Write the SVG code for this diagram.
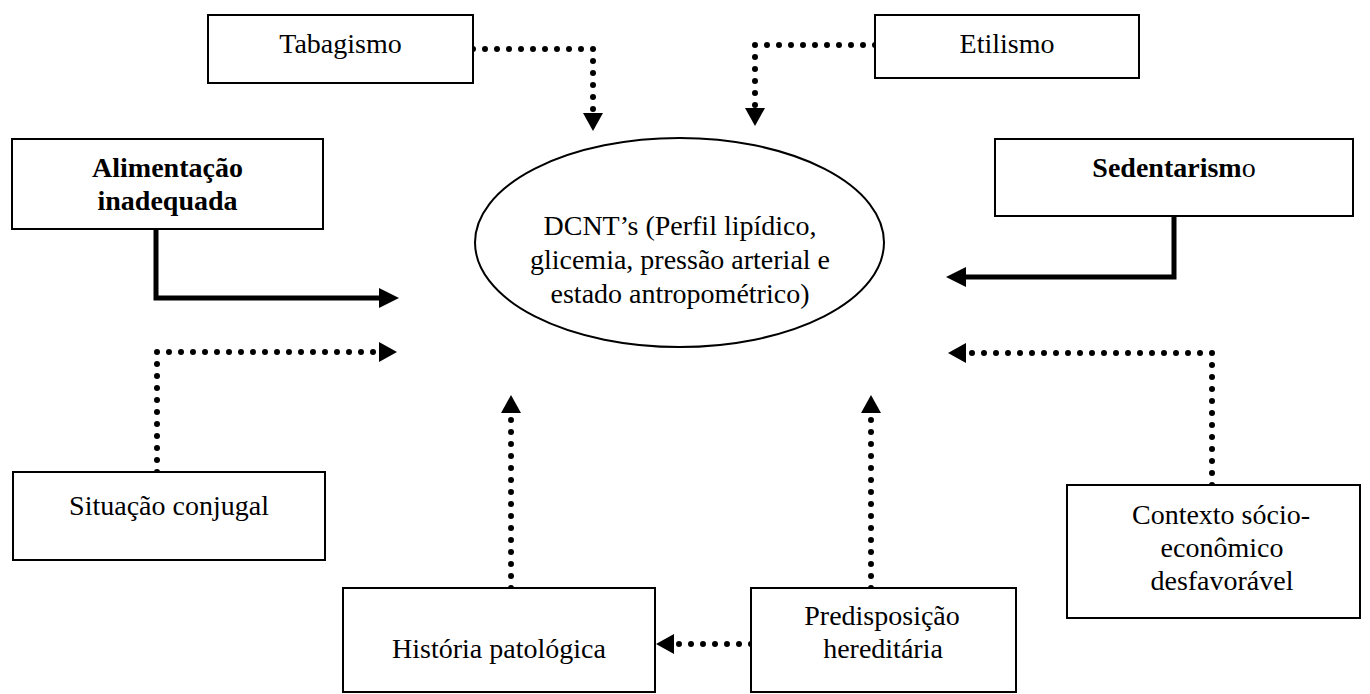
<svg xmlns="http://www.w3.org/2000/svg" width="1370" height="694" viewBox="0 0 1370 694">
<style>
.box{fill:#fff;stroke:#000;stroke-width:2}
.t{font-family:"Liberation Serif","Times New Roman",serif;font-size:28px;fill:#000;text-anchor:middle}
.b{font-weight:bold}
.dot{fill:none;stroke:#000;stroke-width:6;stroke-dasharray:0 12;stroke-linecap:round;stroke-linejoin:round}
.solid{fill:none;stroke:#000;stroke-width:5;stroke-linejoin:miter}
</style>
<defs>
<marker id="ad" markerUnits="userSpaceOnUse" markerWidth="20" markerHeight="22" refX="0" refY="10" orient="auto" viewBox="0 0 20 20" overflow="visible">
<path d="M0,0 L18,10 L0,20 z" fill="#000"/>
</marker>
<marker id="as" markerUnits="userSpaceOnUse" markerWidth="20" markerHeight="20" refX="0" refY="9" orient="auto" viewBox="0 0 18 18" overflow="visible">
<path d="M0,0 L18,9 L0,18 z" fill="#000"/>
</marker>
</defs>
<rect width="1370" height="694" fill="#fff"/>

<g id="connectors">
<path class="dot" d="M473,49 H593 V113" marker-end="url(#ad)"/>
<path class="dot" d="M875,45 H755 V108" marker-end="url(#ad)"/>
<path class="solid" d="M156,229 V298 H379" marker-end="url(#as)"/>
<path class="solid" d="M1174,216 V277 H966" marker-end="url(#as)"/>
<path class="dot" d="M157,472 V352 H379" marker-end="url(#ad)"/>
<path class="dot" d="M1212,485 V353 H966" marker-end="url(#ad)"/>
<path class="dot" d="M511,588 V413" marker-end="url(#ad)"/>
<path class="dot" d="M871,588 V413" marker-end="url(#ad)"/>
<path class="dot" d="M751,644 H674" marker-end="url(#ad)"/>
</g>

<g id="dcnt">
<ellipse cx="679.5" cy="242.5" rx="204.5" ry="104.5" fill="#fff" stroke="#000" stroke-width="2"/>
<text class="t" x="680" y="235">DCNT’s (Perfil lipídico,</text>
<text class="t" x="680" y="269">glicemia, pressão arterial e</text>
<text class="t" x="680" y="303">estado antropométrico)</text>
</g>

<g id="tabagismo">
<rect class="box" x="208" y="15" width="265" height="68"/>
<text class="t" x="340.5" y="53">Tabagismo</text>
</g>

<g id="etilismo">
<rect class="box" x="875" y="15" width="264" height="63"/>
<text class="t" x="1007" y="53">Etilismo</text>
</g>

<g id="alimentacao">
<rect class="box" x="12" y="139" width="311" height="90"/>
<text class="t b" x="167.5" y="177">Alimentação</text>
<text class="t b" x="167.5" y="210">inadequada</text>
</g>

<g id="sedentarismo">
<rect class="box" x="995" y="139" width="358" height="77"/>
<text class="t" x="1174" y="177"><tspan class="b">Sedentarism</tspan>o</text>
</g>

<g id="situacao">
<rect class="box" x="13" y="472" width="312" height="88"/>
<text class="t" x="169" y="515">Situação conjugal</text>
</g>

<g id="contexto">
<rect class="box" x="1067" y="485" width="293" height="133"/>
<text class="t" x="1221" y="524">Contexto sócio-</text>
<text class="t" x="1222" y="557">econômico</text>
<text class="t" x="1222" y="590">desfavorável</text>
</g>

<g id="historia">
<rect class="box" x="343" y="588" width="312" height="104"/>
<text class="t" x="499" y="658">História patológica</text>
</g>

<g id="predisposicao">
<rect class="box" x="751" y="588" width="265" height="104"/>
<text class="t" x="882" y="625">Predisposição</text>
<text class="t" x="883" y="658">hereditária</text>
</g>
</svg>
